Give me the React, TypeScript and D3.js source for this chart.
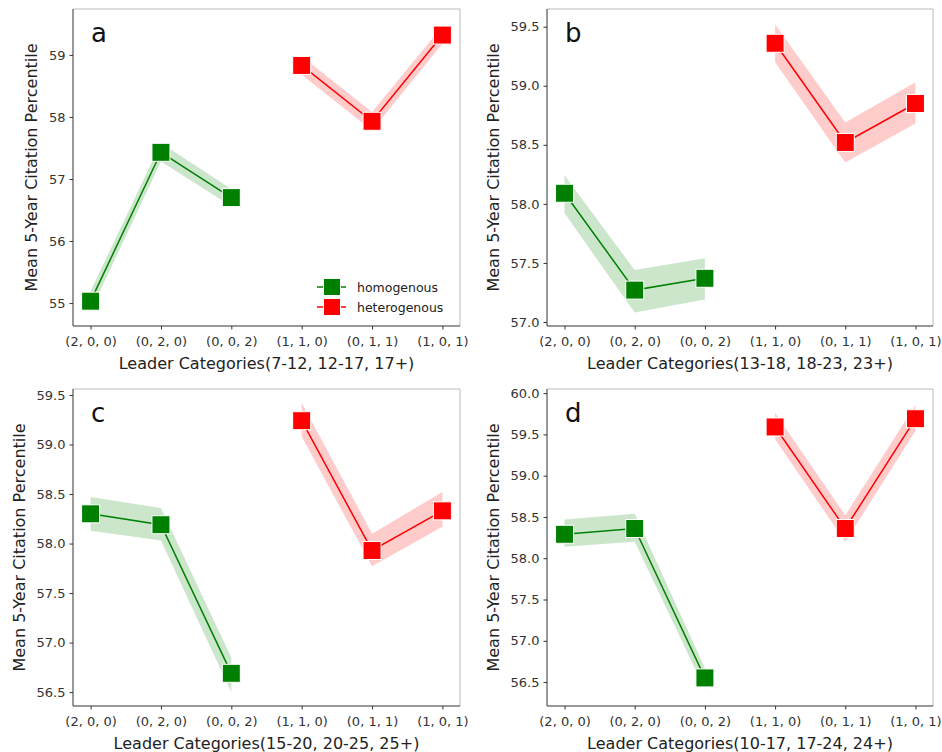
import React, { useEffect, useRef } from "react";
import * as d3 from "d3";

const homoCategories = ["(2, 0, 0)", "(0, 2, 0)", "(0, 0, 2)"];
const heteroCategories = ["(1, 1, 0)", "(0, 1, 1)", "(1, 0, 1)"];
const allCategories = [...homoCategories, ...heteroCategories];

const panelLetters = ["a", "b", "c", "d"];
const xTitles = [
  "Leader Categories(7-12, 12-17, 17+)",
  "Leader Categories(13-18, 18-23, 23+)",
  "Leader Categories(15-20, 20-25, 25+)",
  "Leader Categories(10-17, 17-24, 24+)",
];
const yTitle = "Mean 5-Year Citation Percentile";
const legendLabels = ["homogenous", "heterogenous"];

// mean + CI bounds
const homoMeanA = [55.03, 57.43, 56.7];
const homoLowA = [54.87, 57.28, 56.56];
const homoHighA = [55.19, 57.58, 56.84];
const heteroMeanA = [58.83, 57.93, 59.32];
const heteroLowA = [58.68, 57.78, 59.18];
const heteroHighA = [58.98, 58.08, 59.46];

const homoMeanB = [58.09, 57.27, 57.37];
const homoLowB = [57.92, 57.08, 57.19];
const homoHighB = [58.24, 57.44, 57.54];
const heteroMeanB = [59.36, 58.52, 58.85];
const heteroLowB = [59.2, 58.35, 58.68];
const heteroHighB = [59.52, 58.69, 59.03];

const homoMeanC = [58.3, 58.19, 56.69];
const homoLowC = [58.13, 58.03, 56.5];
const homoHighC = [58.47, 58.36, 56.85];
const heteroMeanC = [59.24, 57.93, 58.33];
const heteroLowC = [59.08, 57.77, 58.17];
const heteroHighC = [59.42, 58.1, 58.52];

const homoMeanD = [58.29, 58.36, 56.55];
const homoLowD = [58.14, 58.2, 56.41];
const homoHighD = [58.47, 58.54, 56.67];
const heteroMeanD = [59.59, 58.36, 59.69];
const heteroLowD = [59.44, 58.2, 59.54];
const heteroHighD = [59.76, 58.52, 59.86];

const yDomains = [
  [54.63, 59.74],
  [56.966, 59.65],
  [56.36, 59.56],
  [56.21, 60.05],
];
const yTicksA = [55, 56, 57, 58, 59];
const yTicksB = [57.0, 57.5, 58.0, 58.5, 59.0, 59.5];
const yTicksC = [56.5, 57.0, 57.5, 58.0, 58.5, 59.0, 59.5];
const yTicksD = [56.5, 57.0, 57.5, 58.0, 58.5, 59.0, 59.5, 60.0];

const GREEN = "#008000";
const RED = "#ff0000";
const FONT = "DejaVu Sans, sans-serif";

const panels = [
  { homo: [homoMeanA, homoLowA, homoHighA], hetero: [heteroMeanA, heteroLowA, heteroHighA], ticks: yTicksA, fmt: "d" },
  { homo: [homoMeanB, homoLowB, homoHighB], hetero: [heteroMeanB, heteroLowB, heteroHighB], ticks: yTicksB, fmt: ".1f" },
  { homo: [homoMeanC, homoLowC, homoHighC], hetero: [heteroMeanC, heteroLowC, heteroHighC], ticks: yTicksC, fmt: ".1f" },
  { homo: [homoMeanD, homoLowD, homoHighD], hetero: [heteroMeanD, heteroLowD, heteroHighD], ticks: yTicksD, fmt: ".1f" },
];

// axes boxes (left, right, top, bottom)
const boxes = [
  { l: 73, r: 460, t: 9, b: 326 },
  { l: 547, r: 933, t: 9, b: 326 },
  { l: 73, r: 460, t: 389, b: 706 },
  { l: 547, r: 933, t: 389, b: 706 },
];

const App = () => {
  const ref = useRef<SVGSVGElement>(null);

  useEffect(() => {
    drawChart();
  }, []);

  const drawChart = () => {
    const svg = d3.select(ref.current);
    svg.selectAll("*").remove();

    panels.forEach((p, i) => {
      const box = boxes[i];
      const x = d3.scalePoint<string>().domain(allCategories).range([box.l, box.r]).padding(0.25);
      const y = d3.scaleLinear().domain(yDomains[i]).range([box.b, box.t]);
      const g = svg.append("g");

      const series = [
        { cats: homoCategories, vals: p.homo, color: GREEN },
        { cats: heteroCategories, vals: p.hetero, color: RED },
      ];

      series.forEach((s) => {
        const rows = s.cats.map((c, k) => ({ c, m: s.vals[0][k], lo: s.vals[1][k], hi: s.vals[2][k] }));
        const area = d3
          .area<any>()
          .x((d) => x(d.c)!)
          .y0((d) => y(d.lo))
          .y1((d) => y(d.hi));
        g.append("path").attr("d", area(rows)).attr("fill", s.color).attr("fill-opacity", 0.2);

        const line = d3
          .line<any>()
          .x((d) => x(d.c)!)
          .y((d) => y(d.m));
        g.append("path").attr("d", line(rows)).attr("fill", "none").attr("stroke", s.color).attr("stroke-width", 1.5);

        g.selectAll(null)
          .data(rows)
          .enter()
          .append("rect")
          .attr("x", (d) => x(d.c)! - 9)
          .attr("y", (d) => y(d.m) - 9)
          .attr("width", 18)
          .attr("height", 18)
          .attr("fill", s.color)
          .attr("stroke", "white")
          .attr("stroke-width", 1);
      });

      // spines
      g.append("line").attr("x1", box.l).attr("x2", box.r).attr("y1", box.t).attr("y2", box.t).attr("stroke", "#bbb");
      g.append("line").attr("x1", box.r).attr("x2", box.r).attr("y1", box.t).attr("y2", box.b).attr("stroke", "#bbb");
      g.append("line").attr("x1", box.l).attr("x2", box.l).attr("y1", box.t).attr("y2", box.b).attr("stroke", "#333");
      g.append("line").attr("x1", box.l).attr("x2", box.r).attr("y1", box.b).attr("y2", box.b).attr("stroke", "#333");

      // x axis
      const xAxis = g
        .append("g")
        .attr("transform", `translate(0,${box.b})`)
        .call(d3.axisBottom(x).tickSize(3.5).tickPadding(7));
      xAxis.select(".domain").remove();
      xAxis.selectAll("line").attr("stroke", "#333");
      xAxis.selectAll("text").attr("font-family", FONT).attr("font-size", 13).attr("fill", "#333");

      // y axis
      const yAxis = g
        .append("g")
        .attr("transform", `translate(${box.l},0)`)
        .call(d3.axisLeft(y).tickValues(p.ticks).tickFormat(d3.format(p.fmt)).tickSize(3.5).tickPadding(4));
      yAxis.select(".domain").remove();
      yAxis.selectAll("line").attr("stroke", "#333");
      yAxis.selectAll("text").attr("font-family", FONT).attr("font-size", 13).attr("fill", "#333");

      const bb = (yAxis.node() as SVGGElement).getBBox();
      const ylx = box.l + bb.x - 17;
      const ymid = (box.t + box.b) / 2;
      g.append("text")
        .attr("transform", `translate(${ylx},${ymid}) rotate(-90)`)
        .attr("text-anchor", "middle")
        .attr("dominant-baseline", "central")
        .attr("font-family", FONT)
        .attr("font-size", 16)
        .attr("fill", "#222")
        .text(yTitle);

      g.append("text")
        .attr("x", (box.l + box.r) / 2)
        .attr("y", box.b + 43)
        .attr("text-anchor", "middle")
        .attr("font-family", FONT)
        .attr("font-size", 16)
        .attr("fill", "#222")
        .text(xTitles[i]);

      g.append("text")
        .attr("x", box.l + 18)
        .attr("y", box.t + 33)
        .attr("font-family", FONT)
        .attr("font-size", 26)
        .attr("fill", "#111")
        .text(panelLetters[i]);

      // legend only on panel a
      if (i === 0) {
        const lg = g.append("g").attr("transform", `translate(${box.r - 128},${box.b - 39})`);
        [GREEN, RED].forEach((c, k) => {
          const yy = k * 20;
          lg.append("line").attr("x1", -15).attr("x2", 14).attr("y1", yy).attr("y2", yy).attr("stroke", c).attr("stroke-width", 1.5);
          lg.append("rect")
            .attr("x", -8.5)
            .attr("y", yy - 8.5)
            .attr("width", 17)
            .attr("height", 17)
            .attr("fill", c)
            .attr("stroke", "white")
            .attr("stroke-width", 1);
          lg.append("text")
            .attr("x", 25)
            .attr("y", yy)
            .attr("dominant-baseline", "central")
            .attr("font-family", FONT)
            .attr("font-size", 12.5)
            .attr("fill", "#222")
            .text(legendLabels[k]);
        });
      }
    });
  };

  return (
    <div style={{ position: "absolute", left: 0, top: 0 }}>
      <svg ref={ref} width={942} height={752} style={{ background: "white", display: "block" }}></svg>
    </div>
  );
};

export default App;
